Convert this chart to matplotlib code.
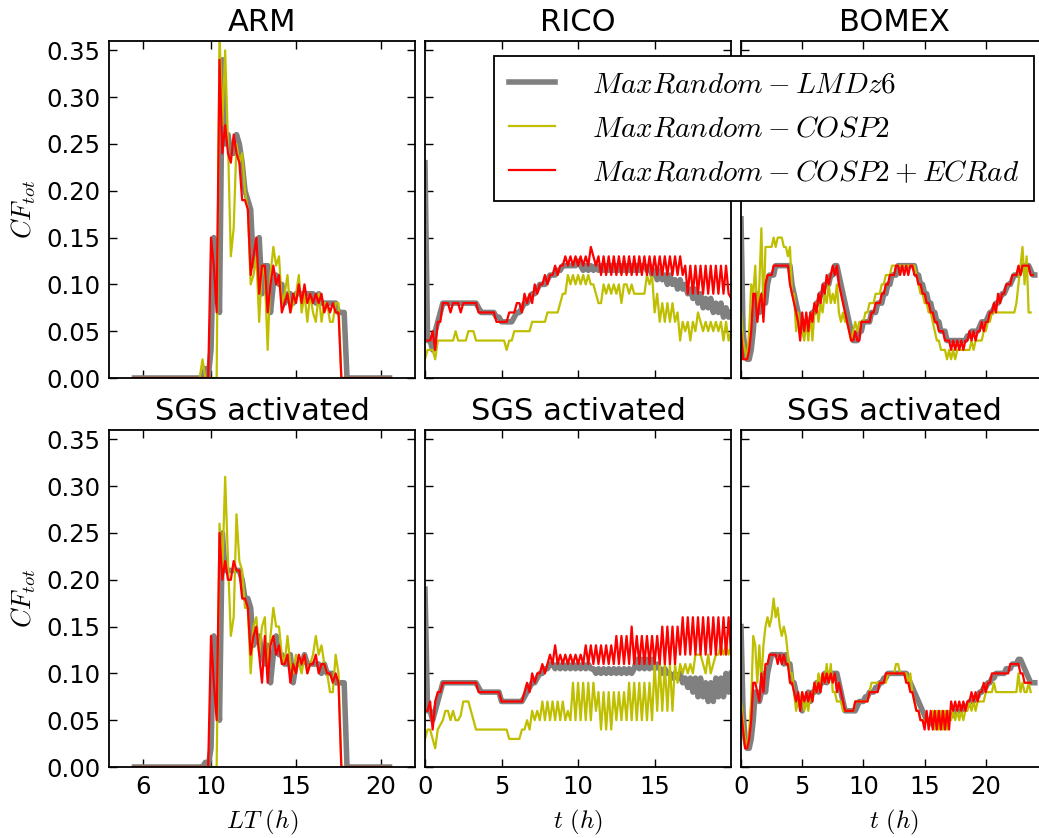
import numpy as np
import matplotlib
matplotlib.use("Agg")
import matplotlib.pyplot as plt

plt.rcParams["font.family"] = "DejaVu Sans"
plt.rcParams["mathtext.fontset"] = "cm"
plt.rcParams["xtick.direction"] = "in"
plt.rcParams["ytick.direction"] = "in"
plt.rcParams["xtick.top"] = True
plt.rcParams["ytick.right"] = True
plt.rcParams["axes.linewidth"] = 1.3


def cf(s):
    # values typed in hundredths of cloud fraction
    return np.array(s.split(), dtype=float) / 100.0


# output every 10 minutes
DT = 1.0 / 6.0
ARM_T0 = 5.5

# ---------------- ARM (LT) ----------------
arm_lmdz = cf("0 0 0 0 0 0 0 0 0 0 0 0 0 0 0 0 0 0 0 0 0 0 0 0 0 "
              "1 0 3 15 11 7 34 25 26 24 24 26 25 23 20 19 18 12 13 15 9 12 12 7 10 11 10 10 8 9 "
              "9 8 9 9 9 9 9 9 9 8 9 8 8 8 8 8 8 7 7 7 "
              "0 0 0 0 0 0 0 0 0 0 0 0 0 0 0 0")
arm_cosp = cf("0 0 0 0 0 0 0 0 0 0 0 0 0 0 0 0 0 0 0 0 0 0 0 0 2 0 0 0 0 0 "
              "37 27 35 25 13 16 25 23 24 20 18 10 11 13 6 12 11 3 11 14 12 13 8 9 11 7 8 9 11 7 "
              "9 6 9 7 6 9 6 8 8 6 6 8 8 "
              "0 0 0 0 0 0 0 0 0 0 0 0 0 0 0 0 0 0")
arm_ecrad = cf("0 0 0 0 0 0 0 0 0 0 0 0 0 0 0 0 0 0 0 0 0 0 0 0 0 0 0 "
               "15 12 7 34 24 27 24 23 26 24 23 19 19 18 11 13 15 9 12 12 7 10 12 10 11 7 8 9 7 9 "
               "8 10 8 10 8 9 8 9 8 9 7 8 7 8 7 7 "
               "0 0 0 0 0 0 0 0 0 0 0 0 0 0 0 0 0 0")
arm_sgs_lmdz = cf("0 0 0 0 0 0 0 0 0 0 0 0 0 0 0 0 0 0 0 0 0 0 0 0 0 "
                  "0.5 0 2 14 10 5 25 21 21 21 21 21 21 20 18 18 17 13 14 14 12 11 13 9 12 14 12 12 11 11 "
                  "12 9 11 11 11 12 11 11 11 11 11 10 11 10 10 10 9 9 9 9 "
                  "0 0 0 0 0 0 0 0 0 0 0 0 0 0 0 0")
arm_sgs_cosp = cf("0 0 0 0 0 0 0 0 0 0 0 0 0 0 0 0 0 0 0 0 0 0 0 0 0 0 0 0 0 0 "
                  "26 21 31 22 14 16 27 22 21 17 17 10 15 16 12 15 16 10 14 17 15 15 12 11 14 11 10 12 11 10 "
                  "12 10 11 12 14 12 13 11 10 8 8 12 10 "
                  "0 0 0 0 0 0 0 0 0 0 0 0 0 0 0 0 0 0")
arm_sgs_ecrad = cf("0 0 0 0 0 0 0 0 0 0 0 0 0 0 0 0 0 0 0 0 0 0 0 0 0 0 0 "
                   "14 9 5 25 20 22 20 20 22 21 21 18 18 17 12 14 15 12 9 14 9 13 14 12 13 11 11 12 9 11 "
                   "10 12 11 12 10 11 11 12 10 11 11 10 10 9 10 9 "
                   "0 0 0 0 0 0 0 0 0 0 0 0 0 0 0 0 0 0")

# ---------------- RICO (t) ----------------
rico_lmdz = cf("23 4 4 3 5 6 7 8 8 8 8 8 8 8 8 8 8 8 8 8 8 "
               "7.5 7 7 7 7 7 7 6.5 6.5 6 6 6 6 6 "
               "6.5 7 7 7.5 8 8 8.5 9 9 9.5 10 10 10 10.5 11 11 11 11.5 11.5 12 12 12 12 12 12 12.5 "
               "12 11.5 12 11.5 12 11.5 12 11.5 12 11.5 12 11.5 12 11.5 12 11.5 12 11.5 12 11.5 12 11.5 12 11.5 12 "
               "12 11.5 12 11 11.5 10.5 11.5 10.5 11 10 11 10 10.5 9.5 10.5 9.5 10 9 9.5 8.5 "
               "9.5 8 9 7.5 8.5 7.5 8.5 7 8 7 8 6.5 7.5 6.5 7")
rico_cosp = cf("2 3 3 3 2 4 4 4 4 4 4 4 5 4 4 4 4 5 5 5 4 4 4 4 4 4 4 4 4 4 "
               "4 4 3 4 4 5 5 5 5 5 5 5 6 6 6 6 6 6 7 7 7 7 7 8 9 9 11 10 11 10 "
               "11 10 11 10 11 10 10 9 8 8 10 9 10 9 10 9 10 8 10 10 9 10 9 9 9 9 9 11 10 11 "
               "7 9 6 8 6 8 6 8 6 7 4 6 5 6 4 6 5 7 6 5 6 5 6 5 6 5 6 4 6 4 5")
rico_ecrad = cf("4 4 4 5 3 6 6 8 8 8 7 8 8 8 7 8 8 8 8 8 8 7 7 7 7 7 7 7 6 6 "
                "6 6 6 7 7 7 8 8 7 9 8 9 8 10 9 10 10 11 10 11 11 12 11 12 12 13 12 13 12 13 "
                "12 13 12 13 12 14 13 12 "
                "13 11 13 11 13 11 13 11 13 11 13 11 13 11 13 11 13 11 13 11 13 11 13 11 13 11 "
                "13 11 13 11 13 11 13 11 "
                "12 9 12 9 12 9 12 9 12 9 12 9 12 9 12 9 12 9 8.5")
rico_sgs_lmdz = cf("19 6 6 5 6 7 8 9 9 9 9 9 9 9 9 9 9 9 9 9 9 "
                   "8.5 8 8 8 8 8 8 8 8 7 7 7 7 7 7 7 7 7 "
                   "7.5 8 8.5 9 9 9.5 10 10 10.5 10.5 11 "
                   "11 10.5 11 10.5 11 10.5 11 10.5 11 10.5 11 10.5 11 10.5 11 10.5 "
                   "10.5 10 10.5 10 10.5 10 10.5 10 10.5 10 10.5 10 10.5 10 10.5 10 10.5 "
                   "11.5 10.5 11.5 10.5 11.5 10.5 11.5 10.5 11 "
                   "10.5 10 10.5 10 10 9.5 10 9.5 10 9 9.5 8.5 9.5 8 9.5 7.5 9.5 7.5 9 7 "
                   "9 7 9.5 7.5 9.5 7.5 10 8 10")
rico_sgs_cosp = cf("3 4 4 3 2 4 4.5 5 6 6 5 6 5 5 5.5 7 7 7 6 5 4 4 4 4 4 4 4 4 4 4 "
                   "4 4 4 3 3 3 3 3 4 4 5 4 6 5 6 5 7 5 7 5 7 5 7 5 7 5 6 5 9 5 "
                   "9 5 9 5 9 5 9 6 8 4 8 4 8 4 8 5 8 5 8 5 9 5 9 5 9 5 9 5 9 5 "
                   "11 6 11 6 11 6 11 6 11 9 11 10 11 10 11 10 12 12 12 11 10 12 10 11 12 12 13 12 13 12 13")
rico_sgs_ecrad = cf("6 6 7 4 7 8 8 9 "
                    "9 9 9 9 9 9 9 9 9 9 9 9 9 "
                    "8 8 8 8 8 8 8 8 8 "
                    "7 7 7 7 7 7 7 7 7 "
                    "8 9 8 10 9 10 10 11 10 11 12 11 13 11 12 11 12 11 12 11 12 11 12 11 13 11 13 11 13 11 "
                    "13 11 13 11 13 11 "
                    "14 11 14 11 14 11 15 11 14 11 14 11 14 11 14 11 14 11 "
                    "15 11 15 11 15 11 15 12 "
                    "16 12 16 12 16 12 16 12 16 12 16 12 16 12 16 12 16 12 16 12")

# ---------------- BOMEX (t) ----------------
bomex_lmdz = cf("17 5 3 2 2 3 5 8 9 7 8 9 8 10 11 11 11 12 12 12 12 12 12 12 12 10 9 8 7 6 "
                "5 6 6 6 6 7 7 8 8 9 9 10 10 10 11 11 12 12 11 10 9 8 7 6 5 4 4 4 5 5 "
                "6 6 6 6 7 7 7 8 8 8 9 9 10 10 11 11 11 12 12 12 12 12 12 12 12 12 11 11 10 10 "
                "9 9 8 8 7 7 6 6 5 5 5 4 4 4 4 4 4 4 4 4 4 4.5 4.5 5 5 5 5 5.5 6 6 "
                "6 6.5 7 7 7.5 8 8 8.5 9 9 9.5 10 10 10.5 11 11 11 11.5 12 12 12 12 11.5 11 11")
bomex_cosp = cf("7 4 3 2 5 10 9 12 6 10 16 7 14 14 14 14 15 14 15 15 15 14 14 13 14 9 9 5 7 5 "
                "5 4 6 4 7 4 7 8 6 8 7 9 8 10 8 9 8 10 7 6 7 6 6 5 4 5 6 5 6 6 "
                "6 7 7 8 8 8 9 9 9 10 10 11 11 11 12 12 12 12 12 12 12 12 12 12 12 12 11 10 9 9 "
                "8 8 7 7 6 5 4 4 3 3 3 2 3 2 3 2 3 3 3 3 3 3 3 4 3 4 4 4 4 5 "
                "5 6 6 7 7 7 7 7 7 7 7 7 7 7 7 8 10 12 14 10 13 7 7")
bomex_ecrad = cf("5 2 2 2 3 5 9 9 6 8 9 6 10 11 11 11 12 12 12 12 12 12 12 12 10 9 8 7 6 4 "
                 "7 5 7 5 7 6 8 7 9 8 10 9 11 10 11 12 11 12 10 9 8 7 6 5 4 4 5 4 4 6 "
                 "6 6 6 6 7 7 8 8 8 9 9 10 10 11 11 11 12 12 11 12 11 12 11 12 12 11 11 10 10 9 "
                 "9 8 8 7 7 6 6 5 5 5 4 4 4 3 4 3 4 3 4 3 4 4 5 4 5 4 5 5 6 5 "
                 "6 6 7 7 8 7 9 8 9 9 10 10 10 11 11 11 12 11 12 12 12 12 11 11")
bomex_sgs_lmdz = cf("15 6 3 2 2 3 5 8 8 7 8 10 8 10 11 12 12 12 12 12 12 11 12 11 11 9 9 8 7 7 "
                    "6 7 7 8 7 8 8 9 8 9 9 10 9 10 10 10 10 10 9 8 7 6 6 6 6 6 6 6.5 7 7 "
                    "7 7.5 7.5 8 8 8 8.5 8.5 9 9 9.5 9.5 10 10 10 10 10 10 10 10 10 10 9.5 9 8.5 8 7.5 7 6.5 6 "
                    "5.5 5 5 5 4.5 5 4.5 5 5 5 5 5 5.5 5.5 5.5 6 6 6 6 6.5 6.5 6.5 7 7 7 7.5 7.5 8 8 8.5 "
                    "8.5 9 9 9.5 9.5 10 10 10 10 10 10.5 10.5 10.5 11 11 11 11.5 11.5 11 10.5 10 9.5 9 9 9")
bomex_sgs_cosp = cf("7 5 3 2 4 7 14 13 9 13 9 13 15 16 15 16 18 16 17 15 14 15 14 12 10 10 8 6 7 7 "
                    "8 6 7 6 8 7 9 8 10 9 10 9 11 9 11 8 8 7 7 7 6 6 6 6 6 6 7 7 7 7 "
                    "7 7 7 8 9 9 9 9 9 9 9 9 10 10 10 10 11 11 10 10 10 10 9 10 8 7 6 6 5 5 "
                    "5 5 5 5 6 4 6 4 6 4 6 4 6 5 6 5 6 5 6 5 6 6 7 6 7 6 7 7 7 7 "
                    "8 8 8 8 9 8 8 8 8 8 8 8 8 8 8 8 10 8 9 8 8 9 8")
bomex_sgs_ecrad = cf("6 4 2 2 3 5 9 9 8 7 10 8 11 11 12 12 12 12 11 12 11 12 11 11 9 9 8 7 8 6 "
                     "8 7 8 7 8 7 9 8 9 8 10 9 10 9 10 9 10 8 9 8 7 6 6 6 6 6 7 7 7 7 "
                     "7 7 7 8 8 8 8 8 9 9 9 10 10 10 10 10 10 10 10 10 10 9 9 8 8 7 6 6 5 5 "
                     "4 6 4 6 4 6 4 6 4 6 4 6 4 7 6 7 6 7 6 7 6 7 7 8 7 8 7 8 8 9 "
                     "8 9 9 10 10 10 10 10 10 10 10 10 11 11 11 11 11 10 10 9 9 9 9")

labels = [r"$MaxRandom-LMDz6$", r"$MaxRandom-COSP2$", r"$MaxRandom-COSP2+ECRad$"]
col_titles = ["ARM", "RICO", "BOMEX"]
row2_title = "SGS activated"
y_ticks = [0.00, 0.05, 0.10, 0.15, 0.20, 0.25, 0.30, 0.35]

panels = [
    [(ARM_T0, arm_lmdz, arm_cosp, arm_ecrad), (0.0, rico_lmdz, rico_cosp, rico_ecrad),
     (0.0, bomex_lmdz, bomex_cosp, bomex_ecrad)],
    [(ARM_T0, arm_sgs_lmdz, arm_sgs_cosp, arm_sgs_ecrad), (0.0, rico_sgs_lmdz, rico_sgs_cosp, rico_sgs_ecrad),
     (0.0, bomex_sgs_lmdz, bomex_sgs_cosp, bomex_sgs_ecrad)],
]
xlims = [(4, 22), (0, 19.99), (0, 25)]
xticks = [[6, 10, 15, 20], [0, 5, 10, 15], [0, 5, 10, 15, 20]]
xlabels = [r"$LT\ (h)$", r"$t\ (h)$", r"$t\ (h)$"]

fig = plt.figure(figsize=(10.39, 8.38), dpi=100)
W = 306 / 1039
lefts = [109 / 1039, 425 / 1039, 741 / 1039]
bottoms = [1 - 378 / 838, 1 - 767 / 838]
H = 337 / 838

handles = None
for r in range(2):
    for c in range(3):
        ax = fig.add_axes([lefts[c], bottoms[r], W, H])
        t0, lmdz, cosp, ecrad = panels[r][c]
        h1, = ax.plot(t0 + np.arange(len(lmdz)) * DT, lmdz, color="0.5", lw=4.0)
        h2, = ax.plot(t0 + np.arange(len(cosp)) * DT, cosp, color="y", lw=1.6)
        h3, = ax.plot(t0 + np.arange(len(ecrad)) * DT, ecrad, color="red", lw=1.6)
        handles = [h1, h2, h3]
        ax.set_xlim(*xlims[c])
        ax.set_ylim(0, 0.36)
        ax.set_xticks(xticks[c])
        ax.set_yticks(y_ticks)
        ax.tick_params(length=6, width=1, labelsize=17.5, pad=6)
        ax.set_title(col_titles[c] if r == 0 else row2_title, fontsize=22, pad=7)
        if c == 0:
            ax.set_yticklabels(["%.2f" % v for v in y_ticks])
            ax.set_ylabel(r"$CF_{tot}$", fontsize=19, labelpad=6)
        else:
            ax.set_yticklabels([])
        if r == 0:
            ax.set_xticklabels([])
        else:
            ax.set_xlabel(xlabels[c], fontsize=18, labelpad=6)

leg = fig.legend(handles, labels, loc="upper left",
                 bbox_to_anchor=(494 / 1039, 1 - 56 / 838), bbox_transform=fig.transFigure,
                 borderaxespad=0, fontsize=21, fancybox=False, framealpha=1,
                 edgecolor="black", handlelength=1.6, handletextpad=1.25,
                 labelspacing=0.55, borderpad=0.5)
leg.get_frame().set_linewidth(1.3)

fig.savefig("out.png", dpi=100, facecolor="white")
